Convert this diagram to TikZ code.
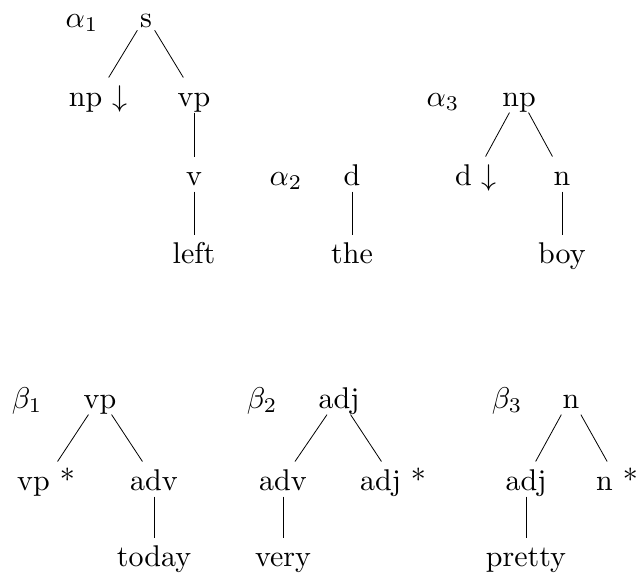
\documentclass[tikz,border=0pt]{standalone}
\usepackage{tikz}

\begin{document}
\begin{tikzpicture}[x=1pt, y=-1pt,
	cat/.style={anchor=base, scale=3, text height=9.3pt, text depth=2pt, inner xsep=0.7pt, inner ysep=0pt},
	treename/.style={anchor=base, scale=3, inner sep=0pt},
	every edge/.style={draw, line width=0.8pt},
	font=\fontsize{10}{12}\selectfont]
	\useasboundingbox (0,0) rectangle (637,576);
	% alpha 1
	\node[treename] (la1) at (82,27) {$\alpha_1$};
	\node[cat] (a1s) at (146,27) {s};
	\node[cat] (a1np) at (98,106) {np $\downarrow$};
	\node[cat] (a1vp) at (194,106) {vp};
	\node[cat] (a1v) at (194,185) {v};
	\node[cat] (a1left) at (194,263) {left};
	\path (a1s) edge (a1np) (a1s) edge (a1vp);
	\path (a1vp) edge (a1v) (a1v) edge (a1left);
	% alpha 2
	\node[treename] (la2) at (286,185) {$\alpha_2$};
	\node[cat] (a2d) at (352,185) {d};
	\node[cat] (a2the) at (352,263) {the};
	\path (a2d) edge (a2the);
	% alpha 3
	\node[treename] (la3) at (443,106) {$\alpha_3$};
	\node[cat] (a3np) at (519,106) {np};
	\node[cat] (a3d) at (476,185) {d $\downarrow$};
	\node[cat] (a3n) at (562,185) {n};
	\node[cat] (a3boy) at (562,263) {boy};
	\path (a3np) edge (a3d) (a3np) edge (a3n);
	\path (a3n) edge (a3boy);
	% beta 1
	\node[treename] (lb1) at (27,408) {$\beta_1$};
	\node[cat] (b1vp) at (100,408) {vp};
	\node[cat] (b1vpf) at (46,490) {vp *};
	\node[cat] (b1adv) at (154,490) {adv};
	\node[cat] (b1today) at (154,566) {today};
	\path (b1vp) edge (b1vpf) (b1vp) edge (b1adv);
	\path (b1adv) edge (b1today);
	% beta 2
	\node[treename] (lb2) at (262,408) {$\beta_2$};
	\node[cat] (b2adj) at (339,408) {adj};
	\node[cat] (b2adv) at (283,490) {adv};
	\node[cat] (b2adjf) at (393,490) {adj *};
	\node[cat] (b2very) at (283,566) {very};
	\path (b2adj) edge (b2adv) (b2adj) edge (b2adjf);
	\path (b2adv) edge (b2very);
	% beta 3
	\node[treename] (lb3) at (507,408) {$\beta_3$};
	\node[cat] (b3n) at (571,408) {n};
	\node[cat] (b3adj) at (526,490) {adj};
	\node[cat] (b3nf) at (617,490) {n *};
	\node[cat] (b3pretty) at (526,566) {pretty};
	\path (b3n) edge (b3adj) (b3n) edge (b3nf);
	\path (b3adj) edge (b3pretty);
\end{tikzpicture}
\end{document}
